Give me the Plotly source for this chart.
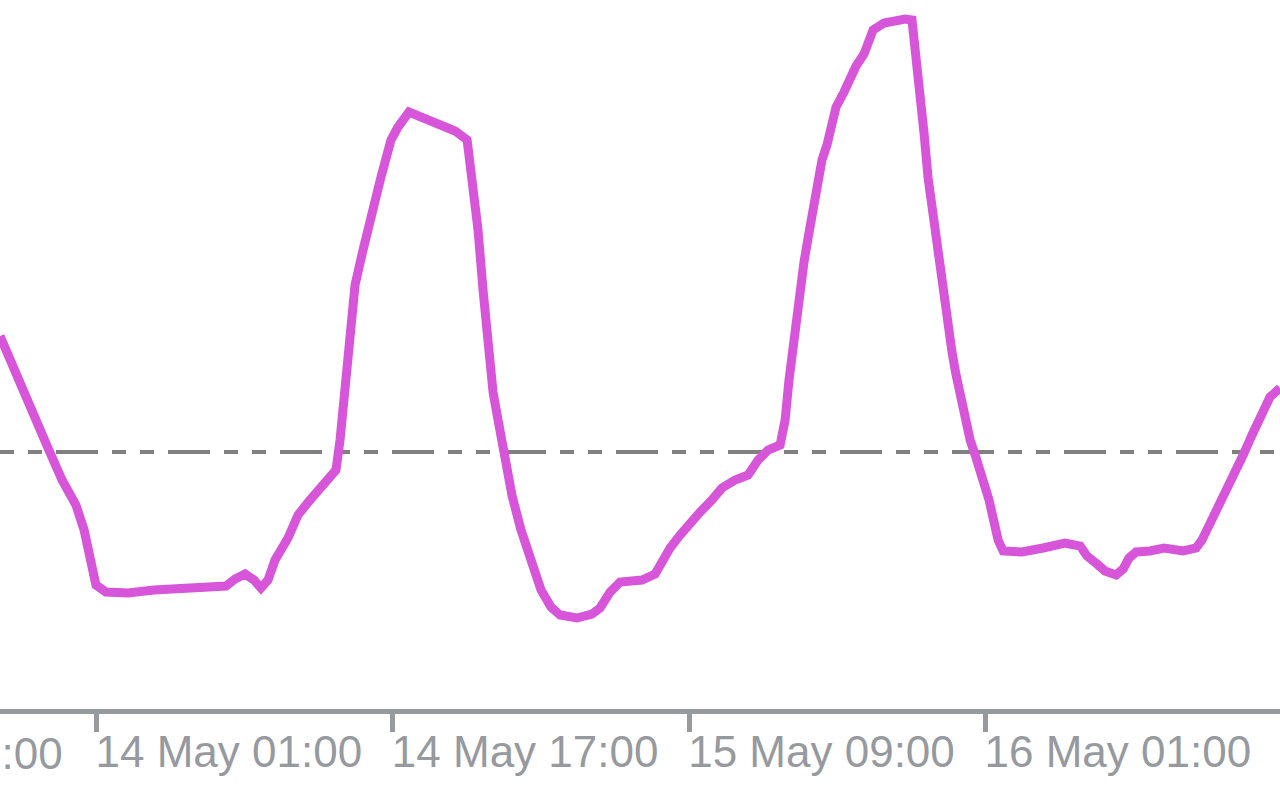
import pandas as pd
import plotly.graph_objects as go

# ---------------- data ----------------
base_time = "2024-05-14 01:00"

# hours relative to base_time
hours = [
    -5.21, -4.83, -4.13, -3.37, -2.62, -1.86, -1.11, -0.67, -0.35, -0.03,
    0.51, 1.70, 3.10, 5.05, 6.99, 7.48, 8.02, 8.50, 8.88, 9.26,
    9.64, 10.34, 10.88, 11.53, 12.18, 12.93, 13.15, 13.36, 13.63, 13.96,
    14.39, 14.88, 15.36, 15.90, 16.28, 16.87, 17.63, 18.49, 19.36, 20.01,
    20.28, 20.60, 20.87, 21.14, 21.41, 21.68, 21.95, 22.16, 22.44, 22.92,
    23.46, 24.00, 24.54, 25.03, 25.94, 26.75, 27.19, 27.73, 28.27, 29.45,
    30.16, 30.64, 30.97, 31.51, 32.05, 32.59, 33.23, 33.77, 34.48, 35.18,
    35.72, 36.26, 36.91, 37.18, 37.39, 37.66, 37.93, 38.20, 38.42, 38.69,
    38.90, 39.17, 39.44, 39.66, 39.93, 40.36, 40.69, 41.01, 41.44, 41.66,
    41.93, 42.52, 43.66, 44.03, 44.20, 44.41, 44.68, 44.90, 45.17, 45.44,
    45.65, 45.92, 46.19, 46.41, 46.68, 46.90, 47.17, 47.44, 47.70, 47.92,
    48.19, 48.46, 48.68, 48.95, 49.97, 51.11, 52.29, 53.11, 53.48, 54.02,
    54.45, 55.05, 55.43, 55.75, 56.13, 56.88, 57.64, 58.67, 59.37, 59.69,
    60.02, 60.45, 60.88, 61.37, 61.91, 62.39, 62.88, 63.36, 63.90,
]

values = [
    101.16, 100.99, 100.67, 100.34, 100.04, 99.72, 99.47, 99.22, 98.92, 98.67,
    98.60, 98.59, 98.62, 98.64, 98.66, 98.73, 98.78, 98.72, 98.64, 98.72,
    98.92, 99.14, 99.37, 99.52, 99.67, 99.82, 100.12, 100.52, 101.07, 101.67,
    102.02, 102.42, 102.75, 103.12, 103.25, 103.40, 103.34, 103.27, 103.21, 103.12,
    102.77, 102.22, 101.62, 101.02, 100.60, 100.32, 100.05, 99.77, 99.56, 99.22,
    98.89, 98.62, 98.45, 98.37, 98.34, 98.38, 98.44, 98.60, 98.70, 98.72,
    98.78, 98.94, 99.04, 99.17, 99.30, 99.40, 99.52, 99.64, 99.72, 99.77,
    99.92, 100.02, 100.07, 100.32, 100.72, 101.15, 101.57, 101.90, 102.14, 102.42,
    102.70, 102.92, 103.07, 103.27, 103.45, 103.60, 103.75, 103.86, 103.98, 104.10,
    104.22, 104.29, 104.33, 104.32, 104.07, 103.64, 103.19, 102.74, 102.35, 102.01,
    101.65, 101.30, 101.00, 100.77, 100.54, 100.30, 100.12, 99.97, 99.82, 99.68,
    99.52, 99.30, 99.12, 99.01, 99.00, 99.04, 99.09, 99.06, 98.96, 98.88,
    98.81, 98.77, 98.83, 98.94, 99.00, 99.01, 99.04, 99.01, 99.04, 99.12,
    99.24, 99.40, 99.55, 99.74, 99.97, 100.17, 100.37, 100.55, 100.64,
]

level = 100.0

tick_hours = [0, 16, 32, 48]
tick_labels = ["14 May 01:00", "14 May 17:00", "15 May 09:00", "16 May 01:00"]
cut_label_hour = -16
cut_label = "13 May 09:00"

x_range_hours = [-5.21, 63.90]
y_range = [97.43, 104.52]

# ---------------- styles ----------------
LINE_COLOR = "#D655D9"
LEVEL_COLOR = "#808080"
AXIS_COLOR = "#969A9F"
FONT = "Liberation Sans, Arial, sans-serif"
FONT_SIZE = 44

base = pd.Timestamp(base_time)
to_time = lambda h: base + pd.to_timedelta(h, unit="h")
times = [to_time(h) for h in hours]

fig = go.Figure()
fig.add_trace(go.Scatter(
    x=times, y=values, mode="lines",
    line=dict(color=LINE_COLOR, width=9, shape="linear"),
    hoverinfo="skip", showlegend=False,
))

fig.add_hline(
    y=level, layer="below",
    line=dict(color=LEVEL_COLOR, width=4, dash="14px,14px,14px,14px,42px,14px"),
)

# label of the tick that lies left of the visible range (only its end shows)
frac = (cut_label_hour - x_range_hours[0]) / (x_range_hours[1] - x_range_hours[0])
fig.add_annotation(
    x=frac, xref="paper", y=0, yref="paper",
    xanchor="left", yanchor="top", showarrow=False,
    text=cut_label, font=dict(family=FONT, size=FONT_SIZE, color=AXIS_COLOR),
    yshift=-18, xshift=-6,
)

fig.update_xaxes(
    type="date",
    range=[to_time(x_range_hours[0]), to_time(x_range_hours[1])],
    tickmode="array",
    tickvals=[to_time(h) for h in tick_hours],
    ticktext=tick_labels,
    ticks="outside", ticklen=18, tickwidth=5, tickcolor=AXIS_COLOR,
    ticklabelposition="outside right",
    ticklabelshift=-6,
    showline=True, linewidth=5, linecolor=AXIS_COLOR,
    showgrid=False, zeroline=False,
    tickfont=dict(family=FONT, size=FONT_SIZE, color=AXIS_COLOR),
)
fig.update_yaxes(range=y_range, visible=False, showgrid=False, zeroline=False)

fig.update_layout(
    width=1280, height=800, autosize=False,
    margin=dict(l=0, r=0, t=0, b=91, pad=0),
    plot_bgcolor="white", paper_bgcolor="white",
    showlegend=False,
)

fig.write_html("out.html", config={"displayModeBar": False},
               post_script="document.body.style.margin='0';")
